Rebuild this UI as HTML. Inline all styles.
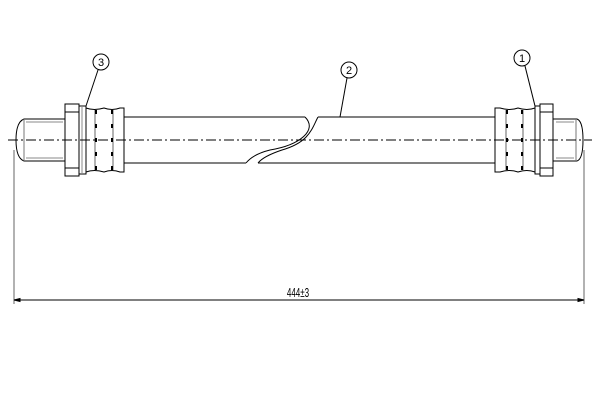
<!DOCTYPE html>
<html><head><style>body{margin:0;background:#fff}svg{display:block}</style></head><body>
<svg width="600" height="400" viewBox="0 0 600 400" xmlns="http://www.w3.org/2000/svg" fill="none" stroke="#000" stroke-width="1">
<!-- left thread -->
<path d="M65 119 H24 Q16 122 16 140 Q16 158 24 161 H65"/>
<line x1="24" y1="119" x2="24" y2="161" stroke="#777"/>
<line x1="26" y1="122" x2="63" y2="122" stroke="#888"/>
<line x1="26" y1="158" x2="63" y2="158" stroke="#888"/>
<!-- left nut -->
<rect x="65" y="104" width="14" height="72"/>
<line x1="65" y1="112" x2="79" y2="112"/><line x1="65" y1="168" x2="79" y2="168"/>
<!-- left ring -->
<rect x="79" y="106" width="7" height="68"/>
<line x1="82" y1="106" x2="82" y2="174" stroke="#888"/>
<!-- left crimp -->
<path d="M86 108 Q94 111 104 108 Q112 111 120 108 L124 108 V172 L120 172 Q112 169 104 172 Q94 169 86 172"/>
<line x1="96" y1="110" x2="96" y2="170" stroke-width="2" stroke-dasharray="4,10"/>
<line x1="112" y1="110" x2="112" y2="170" stroke-width="2" stroke-dasharray="4,10"/>
<line x1="95" y1="110" x2="95" y2="170" stroke-width="0.6"/>
<line x1="113" y1="110" x2="113" y2="170" stroke-width="0.6"/>
<!-- hose -->
<path d="M124 117 H305 M318 117 H495"/>
<path d="M124 163 H246 M258 163 H495"/>
<path d="M305 117 C318 130 300 145 270 150 C258 153 250 158 246 163"/>
<path d="M318 117 C312 128 310 142 282 150 C270 154 262 158 258 163"/>
<!-- right crimp -->
<path d="M535 108 Q527 111 518 108 Q510 111 500 108 L495 108 V172 L500 172 Q510 169 518 172 Q527 169 535 172"/>
<line x1="507" y1="110" x2="507" y2="170" stroke-width="2" stroke-dasharray="4,10"/>
<line x1="522" y1="110" x2="522" y2="170" stroke-width="2" stroke-dasharray="4,10"/>
<line x1="506" y1="110" x2="506" y2="170" stroke-width="0.6"/>
<line x1="523" y1="110" x2="523" y2="170" stroke-width="0.6"/>
<!-- right ring -->
<rect x="535" y="106" width="5" height="68"/>
<!-- right nut -->
<rect x="540" y="104" width="13" height="72"/>
<line x1="540" y1="112" x2="553" y2="112"/><line x1="540" y1="168" x2="553" y2="168"/>
<!-- right thread -->
<path d="M553 119 H577 Q583 121 583 140 Q583 159 577 161 H553"/>
<line x1="576" y1="119" x2="576" y2="161" stroke="#777"/>
<line x1="556" y1="122" x2="574" y2="122" stroke="#888"/>
<line x1="556" y1="158" x2="574" y2="158" stroke="#888"/>
<!-- centerline -->
<line x1="8" y1="140" x2="592" y2="140" stroke-dasharray="10,3,2,3"/>
<!-- balloons -->
<circle cx="101" cy="62" r="8"/><text x="101" y="66" font-family="Liberation Sans, sans-serif" font-size="11" text-anchor="middle" fill="#000" stroke="none">3</text>
<line x1="98" y1="70" x2="86" y2="106"/>
<circle cx="349" cy="70" r="8"/><text x="349" y="74" font-family="Liberation Sans, sans-serif" font-size="11" text-anchor="middle" fill="#000" stroke="none">2</text>
<line x1="347" y1="78" x2="340" y2="117"/>
<circle cx="522" cy="58" r="8"/><text x="522" y="62" font-family="Liberation Sans, sans-serif" font-size="11" text-anchor="middle" fill="#000" stroke="none">1</text>
<line x1="525" y1="66" x2="535" y2="106"/>
<!-- dimension -->
<line x1="14" y1="150" x2="14" y2="304" stroke="#666"/>
<line x1="584" y1="150" x2="584" y2="304" stroke="#666"/>
<line x1="14" y1="300" x2="584" y2="300"/>
<path d="M14 300 l6 -1.5 v3 z M584 300 l-6 -1.5 v3 z" fill="#000"/>
<text x="298" y="297" font-family="Liberation Sans, sans-serif" font-size="13" text-anchor="middle" fill="#000" stroke="none" transform="translate(298 0) scale(0.62 1) translate(-298 0)">444±3</text>
</svg>
</body></html>
